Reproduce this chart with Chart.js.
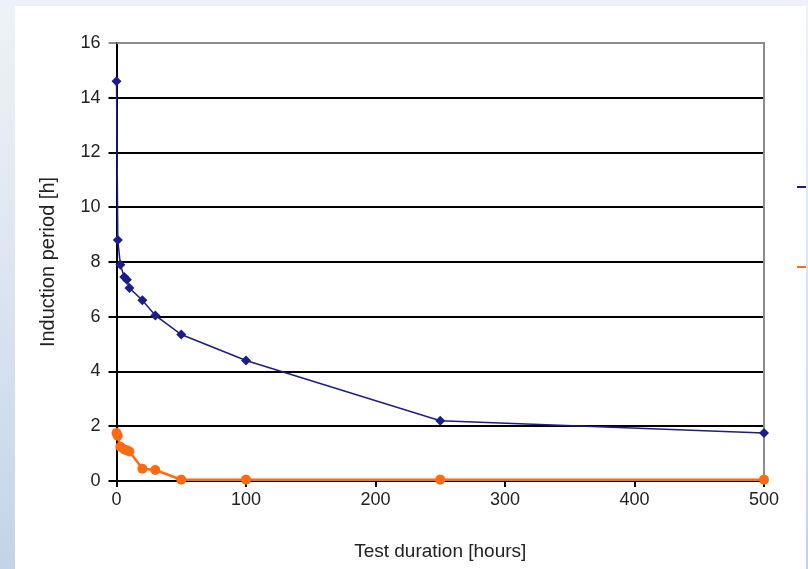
<!DOCTYPE html>
<html>
    <head>
        <script src="https://cdn.jsdelivr.net/npm/chart.js@4.4.0/dist/chart.umd.min.js"></script>
        <style>
            html, body { margin: 0; padding: 0; }
            body {
                width: 808px; height: 569px; overflow: hidden; position: relative;
                background: linear-gradient(180deg, #eef2f8 0%, #dbe5f1 50%, #c3d4e8 100%);
            }
            #panel {
                position: absolute; left: 15px; top: 6px; width: 791px; height: 563px;
                background: #ffffff;
            }
        </style>
    </head>
    <body>
        <div id="panel">
            <canvas id="myChart" width="791" height="563"></canvas>
        </div>
    </body>

    <script>
        // test duration [hours]
        const hours = [0, 1, 3, 6, 8, 10, 20, 30, 50, 100, 250, 500]
        // induction period [h], blue series
        const blueVals = [14.6, 8.8, 7.9, 7.45, 7.35, 7.05, 6.6, 6.05, 5.35, 4.4, 2.2, 1.75]
        // induction period [h], orange series
        const orangeVals = [1.75, 1.65, 1.25, 1.15, 1.12, 1.08, 0.45, 0.4, 0.05, 0.05, 0.05, 0.05]

        const xTicks = [0, 100, 200, 300, 400, 500]
        const yTicks = [0, 2, 4, 6, 8, 10, 12, 14, 16]

        const toPoints = (xs, ys) => xs.map((x, i) => ({ x: x, y: ys[i] }))

        // grey frame on top/right + cut-off legend marks on the right
        const framePlugin = {
            id: 'frame',
            beforeDatasetsDraw(chart) {
                const ctx = chart.ctx
                const a = chart.chartArea
                ctx.save()
                ctx.strokeStyle = '#8c8c8c'
                ctx.lineWidth = 2
                ctx.beginPath()
                ctx.moveTo(a.left, a.top)
                ctx.lineTo(a.right, a.top)
                ctx.lineTo(a.right, a.bottom)
                ctx.stroke()

                const mid = (a.top + a.bottom) / 2
                const marks = [
                    { color: chart.data.datasets[0].borderColor, y: mid - 75 },
                    { color: chart.data.datasets[1].borderColor, y: mid + 5 }
                ]
                ctx.lineWidth = 2
                marks.forEach(m => {
                    ctx.strokeStyle = m.color
                    ctx.beginPath()
                    ctx.moveTo(a.right + 33, m.y)
                    ctx.lineTo(a.right + 45, m.y)
                    ctx.stroke()
                })
                ctx.restore()
            }
        }

        const tickFont = { family: 'Liberation Sans', size: 18 }

        const config = {
            type: 'line',
            data: {
                datasets: [{
                    label: 'Blue',
                    data: toPoints(hours, blueVals),
                    borderColor: '#1c1c8c',
                    backgroundColor: '#1c1c8c',
                    borderWidth: 1.5,
                    pointStyle: 'rectRot',
                    pointRadius: 5,
                    pointBorderWidth: 0,
                    tension: 0,
                    clip: false
                }, {
                    label: 'Orange',
                    data: toPoints(hours, orangeVals),
                    borderColor: '#ff6a10',
                    backgroundColor: '#ff6a10',
                    borderWidth: 2.5,
                    pointStyle: 'circle',
                    pointRadius: 5,
                    pointBorderWidth: 0,
                    tension: 0,
                    clip: false
                }]
            },
            options: {
                responsive: false,
                animation: false,
                layout: { padding: { left: 21, top: 37, right: 42, bottom: 0 } },
                plugins: {
                    legend: { display: false },
                    tooltip: { enabled: false }
                },
                scales: {
                    x: {
                        type: 'linear',
                        min: 0,
                        max: 500,
                        afterBuildTicks: (s) => { s.ticks = xTicks.map(v => ({ value: v })) },
                        afterFit: (s) => { s.height = 88 },
                        ticks: { color: '#222', font: tickFont, padding: 2 },
                        grid: { drawOnChartArea: false, color: '#000', lineWidth: 2, tickLength: 6 },
                        border: { color: '#000', width: 2 },
                        title: {
                            display: true,
                            text: 'Test duration [hours]',
                            color: '#222',
                            font: { family: 'Liberation Sans', size: 19 },
                            padding: { top: 18, bottom: 6 }
                        }
                    },
                    y: {
                        min: 0,
                        max: 16,
                        afterBuildTicks: (s) => { s.ticks = yTicks.map(v => ({ value: v })) },
                        afterFit: (s) => { s.width = 80.5 },
                        ticks: { color: '#222', font: tickFont, padding: 8 },
                        grid: {
                            color: (c) => (c.tick && c.tick.value === 16) ? '#8c8c8c' : '#000',
                            lineWidth: 2,
                            tickLength: 8
                        },
                        border: { color: '#000', width: 2 },
                        title: {
                            display: true,
                            text: 'Induction period [h]',
                            color: '#222',
                            font: { family: 'Liberation Sans', size: 20 },
                            padding: { top: 0, bottom: 10 }
                        }
                    }
                }
            },
            plugins: [framePlugin]
        }

        const myChart = new Chart(document.getElementById('myChart'), config)
    </script>
</html>
